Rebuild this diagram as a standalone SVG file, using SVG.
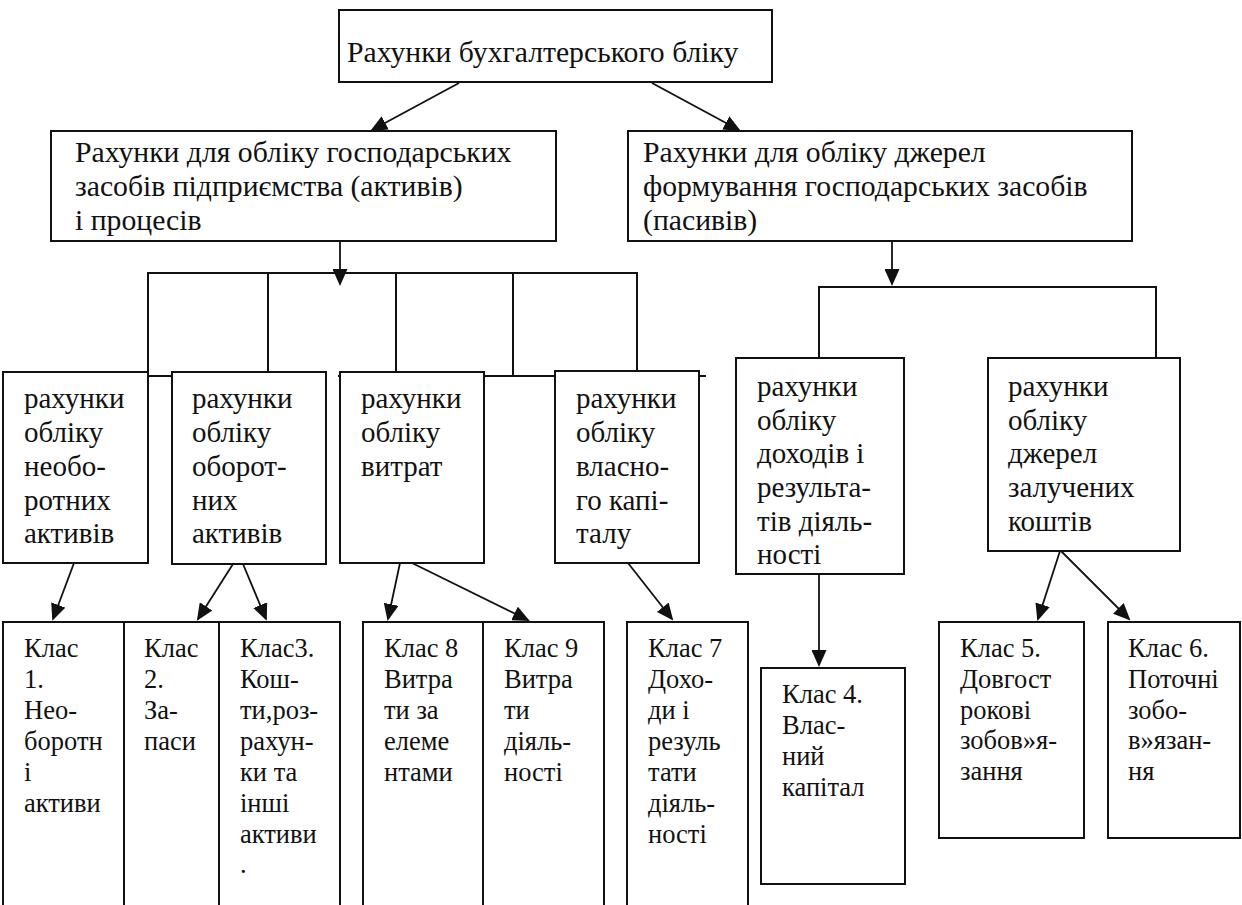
<svg xmlns="http://www.w3.org/2000/svg" width="1242" height="905" viewBox="0 0 1242 905">
<style>
.box{fill:#fff;stroke:#111;stroke-width:2}
.ln{fill:none;stroke:#111;stroke-width:2}
.ar{fill:none;stroke:#111;stroke-width:1.8;marker-end:url(#ah)}
.t{font-family:"Liberation Serif","Times New Roman",serif;font-size:29px;fill:#111}
.h{font-size:29.7px}
.s{font-family:"Liberation Serif","Times New Roman",serif;font-size:26.5px;fill:#111}
</style>
<defs>
<marker id="ah" markerUnits="userSpaceOnUse" markerWidth="17" markerHeight="15" refX="15" refY="7.5" orient="auto">
<path d="M0,0 L17,7.5 L0,15 z" fill="#111"/>
</marker>
</defs>
<rect width="1242" height="905" fill="#fff"/>
<g id="connectors">
<path class="ln" d="M148,376 V273 H637 V372"/>
<path class="ln" d="M268,273 V372"/>
<path class="ln" d="M396,273 V372"/>
<path class="ln" d="M513,273 V376"/>
<path class="ln" d="M148,376 H172"/>
<path class="ln" d="M338,376 H706"/>
<path class="ln" d="M819,358 V287 H1156 V358"/>
<path class="ar" d="M459,83 L372,130"/>
<path class="ar" d="M652,83 L739,130"/>
<path class="ar" d="M340,241 L340,284"/>
<path class="ar" d="M892,241 L892,284"/>
<path class="ar" d="M74,563 L53,619"/>
<path class="ar" d="M233,564 L198,619"/>
<path class="ar" d="M243,564 L266,619"/>
<path class="ar" d="M400,563 L388,619"/>
<path class="ar" d="M412,563 L528,620"/>
<path class="ar" d="M628,563 L672,619"/>
<path class="ar" d="M819,574 L819,665"/>
<path class="ar" d="M1060,551 L1038,619"/>
<path class="ar" d="M1061,551 L1129,619"/>
</g>
<g id="n-root">
<rect class="box" x="339" y="10" width="433" height="72"/>
<text class="t h" x="347" y="62">Рахунки бухгалтерського бліку</text>
</g>
<g id="n-aktyvy">
<rect class="box" x="51" y="131" width="505" height="110"/>
<text class="t h"><tspan x="75" y="162">Рахунки для обліку господарських</tspan><tspan x="75" y="196">засобів підприємства (активів)</tspan><tspan x="75" y="230">і процесів</tspan></text>
</g>
<g id="n-pasyvy">
<rect class="box" x="628" y="131" width="504" height="110"/>
<text class="t h"><tspan x="643" y="162">Рахунки для обліку джерел</tspan><tspan x="643" y="196">формування господарських засобів</tspan><tspan x="643" y="230">(пасивів)</tspan></text>
</g>
<g id="n-neoborotni">
<rect class="box" x="3" y="372" width="145" height="191"/>
<text class="t"><tspan x="24" y="408">рахунки</tspan><tspan x="24" y="442">обліку</tspan><tspan x="24" y="476">необо-</tspan><tspan x="24" y="510">ротних</tspan><tspan x="24" y="543">активів</tspan></text>
</g>
<g id="n-oborotni">
<rect class="box" x="172" y="372" width="154" height="192"/>
<text class="t"><tspan x="192" y="408">рахунки</tspan><tspan x="192" y="442">обліку</tspan><tspan x="192" y="476">оборот-</tspan><tspan x="192" y="510">них</tspan><tspan x="192" y="543">активів</tspan></text>
</g>
<g id="n-vytraty">
<rect class="box" x="340" y="372" width="144" height="191"/>
<text class="t"><tspan x="361" y="408">рахунки</tspan><tspan x="361" y="442">обліку</tspan><tspan x="361" y="476">витрат</tspan></text>
</g>
<g id="n-kapital">
<rect class="box" x="555" y="371" width="144" height="192"/>
<text class="t"><tspan x="576" y="408">рахунки</tspan><tspan x="576" y="442">обліку</tspan><tspan x="576" y="476">власно-</tspan><tspan x="576" y="510">го капі-</tspan><tspan x="576" y="543">талу</tspan></text>
</g>
<g id="n-dokhody">
<rect class="box" x="736" y="358" width="168" height="216"/>
<text class="t"><tspan x="757" y="396">рахунки</tspan><tspan x="757" y="430">обліку</tspan><tspan x="757" y="463">доходів і</tspan><tspan x="757" y="497">результа-</tspan><tspan x="757" y="531">тів діяль-</tspan><tspan x="757" y="564">ності</tspan></text>
</g>
<g id="n-zaluch">
<rect class="box" x="988" y="358" width="192" height="193"/>
<text class="t"><tspan x="1008" y="396">рахунки</tspan><tspan x="1008" y="430">обліку</tspan><tspan x="1008" y="463">джерел</tspan><tspan x="1008" y="497">залучених</tspan><tspan x="1008" y="531">коштів</tspan></text>
</g>
<g id="n-klas1">
<rect class="box" x="3" y="622" width="121" height="300"/>
<text class="s"><tspan x="24" y="657">Клас</tspan><tspan x="24" y="688">1.</tspan><tspan x="24" y="719">Нео-</tspan><tspan x="24" y="750">боротн</tspan><tspan x="24" y="781">і</tspan><tspan x="24" y="812">активи</tspan></text>
</g>
<g id="n-klas2">
<rect class="box" x="124" y="622" width="95" height="300"/>
<text class="s"><tspan x="144" y="657">Клас</tspan><tspan x="144" y="688">2.</tspan><tspan x="144" y="719">За-</tspan><tspan x="144" y="750">паси</tspan></text>
</g>
<g id="n-klas3">
<rect class="box" x="219" y="622" width="121" height="300"/>
<text class="s"><tspan x="240" y="657">Клас3.</tspan><tspan x="240" y="688">Кош-</tspan><tspan x="240" y="719">ти,роз-</tspan><tspan x="240" y="750">рахун-</tspan><tspan x="240" y="781">ки та</tspan><tspan x="240" y="812">інші</tspan><tspan x="240" y="843">активи</tspan><tspan x="240" y="873">.</tspan></text>
</g>
<g id="n-klas8">
<rect class="box" x="363" y="622" width="120" height="300"/>
<text class="s"><tspan x="384" y="657">Клас 8</tspan><tspan x="384" y="688">Витра</tspan><tspan x="384" y="719">ти за</tspan><tspan x="384" y="750">елеме</tspan><tspan x="384" y="781">нтами</tspan></text>
</g>
<g id="n-klas9">
<rect class="box" x="483" y="622" width="121" height="300"/>
<text class="s"><tspan x="504" y="657">Клас 9</tspan><tspan x="504" y="688">Витра</tspan><tspan x="504" y="719">ти</tspan><tspan x="504" y="750">діяль-</tspan><tspan x="504" y="781">ності</tspan></text>
</g>
<g id="n-klas7">
<rect class="box" x="627" y="622" width="121" height="300"/>
<text class="s"><tspan x="648" y="657">Клас 7</tspan><tspan x="648" y="688">Дохо-</tspan><tspan x="648" y="719">ди і</tspan><tspan x="648" y="750">резуль</tspan><tspan x="648" y="781">тати</tspan><tspan x="648" y="812">діяль-</tspan><tspan x="648" y="843">ності</tspan></text>
</g>
<g id="n-klas4">
<rect class="box" x="761" y="668" width="144" height="216"/>
<text class="s"><tspan x="782" y="703">Клас 4.</tspan><tspan x="782" y="734">Влас-</tspan><tspan x="782" y="765">ний</tspan><tspan x="782" y="796">капітал</tspan></text>
</g>
<g id="n-klas5">
<rect class="box" x="939" y="622" width="145" height="216"/>
<text class="s"><tspan x="960" y="657">Клас 5.</tspan><tspan x="960" y="688">Довгост</tspan><tspan x="960" y="719">рокові</tspan><tspan x="960" y="749">зобов»я-</tspan><tspan x="960" y="780">зання</tspan></text>
</g>
<g id="n-klas6">
<rect class="box" x="1108" y="622" width="132" height="216"/>
<text class="s"><tspan x="1128" y="657">Клас 6.</tspan><tspan x="1128" y="688">Поточні</tspan><tspan x="1128" y="719">зобо-</tspan><tspan x="1128" y="749">в»язан-</tspan><tspan x="1128" y="780">ня</tspan></text>
</g>
</svg>
